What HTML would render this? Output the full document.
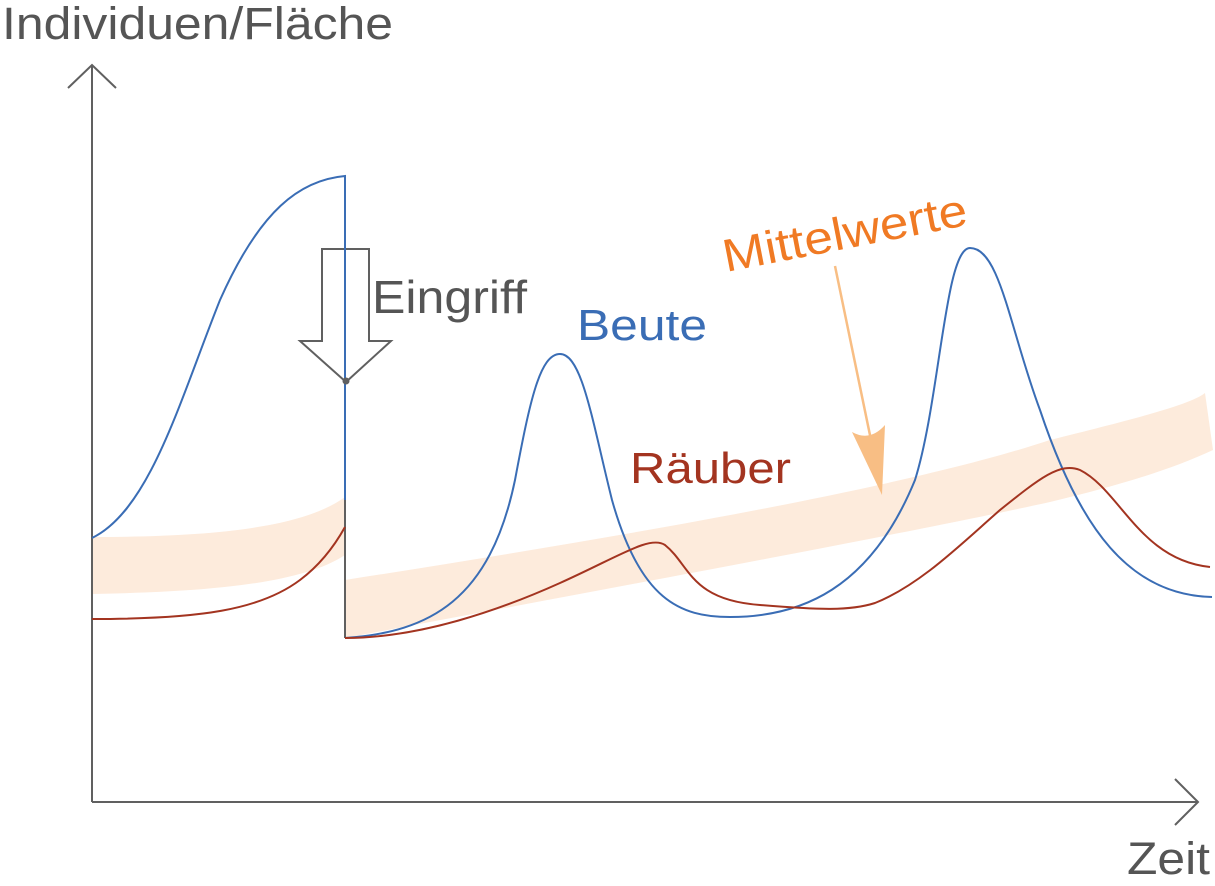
<!DOCTYPE html>
<html><head><meta charset="utf-8"><style>
html,body{margin:0;padding:0;background:#fff;}
svg{display:block;}
text{font-family:"Liberation Sans",sans-serif;}
</style></head><body>
<svg width="1215" height="886" viewBox="0 0 1215 886" xmlns="http://www.w3.org/2000/svg">
<path d="M92,537 C200,537 300,530 345,497 L345,555 C300,585 200,592 92,594 Z" fill="#fdebdc"/>
<path d="M345,580 C600,540 900,490 1050,440 C1130,420 1190,405 1205,393 L1213,450 C1170,470 1120,485 1050,502 C900,535 600,590 345,638 Z" fill="#fdebdc"/>
<g stroke="#606060" stroke-width="2" fill="none">
<line x1="92" y1="802" x2="92" y2="66"/>
<polyline points="68,88 92,65 116,88"/>
<line x1="92" y1="802" x2="1197" y2="802"/>
<polyline points="1175,779 1198,802 1175,825"/>
<line x1="345" y1="500" x2="345" y2="638"/>
</g>
<path d="M322,249 L369,249 L369,341 L391,341 L346,382 L300,341 L322,341 Z" fill="none" stroke="#606060" stroke-width="2"/>
<path d="M92,538 C150,510 180,400 220,300 C260,210 300,180 345,176 L345,500" fill="none" stroke="#3a6db5" stroke-width="2"/>
<path d="M345,638 C430,632 490,600 515,480 C530,400 540,354 560,354 C582,354 592,420 612,500 C640,600 680,617 730,617 C800,617 870,590 915,480 C940,400 945,248 970,248 C1000,248 1010,330 1040,410 C1080,530 1130,595 1212,597" fill="none" stroke="#3a6db5" stroke-width="2"/>
<path d="M92,619 C200,619 260,610 300,580 C320,565 335,545 345,527" fill="none" stroke="#a33420" stroke-width="2"/>
<path d="M345,638 C420,638 500,610 560,583 C620,556 650,535 665,545 C690,565 690,600 760,605 C820,610 850,611 875,603 C920,585 960,545 1000,510 C1040,478 1060,462 1080,470 C1120,490 1140,560 1210,567" fill="none" stroke="#a33420" stroke-width="2"/>
<circle cx="346" cy="381" r="3.5" fill="#606060"/>
<line x1="835" y1="266" x2="871" y2="440" stroke="#f8be84" stroke-width="2.5"/>
<path d="M852,432 Q870,442 885,425 L882,495 Z" fill="#f8be84"/>
<text x="2" y="39" font-size="45" fill="#555" textLength="391" lengthAdjust="spacingAndGlyphs">Individuen/Fläche</text>
<text x="1127" y="874" font-size="45" fill="#555" textLength="83" lengthAdjust="spacingAndGlyphs">Zeit</text>
<text x="372" y="313" font-size="46" fill="#555" textLength="155" lengthAdjust="spacingAndGlyphs">Eingriff</text>
<text x="577" y="340" font-size="44" fill="#3a6db5" textLength="130" lengthAdjust="spacingAndGlyphs">Beute</text>
<text x="630" y="483" font-size="44" fill="#a33420" textLength="161" lengthAdjust="spacingAndGlyphs">Räuber</text>
<text x="0" y="0" font-size="46" fill="#f07a24" transform="translate(726,272) rotate(-11)" textLength="248" lengthAdjust="spacingAndGlyphs">Mittelwerte</text>
</svg>
</body></html>
